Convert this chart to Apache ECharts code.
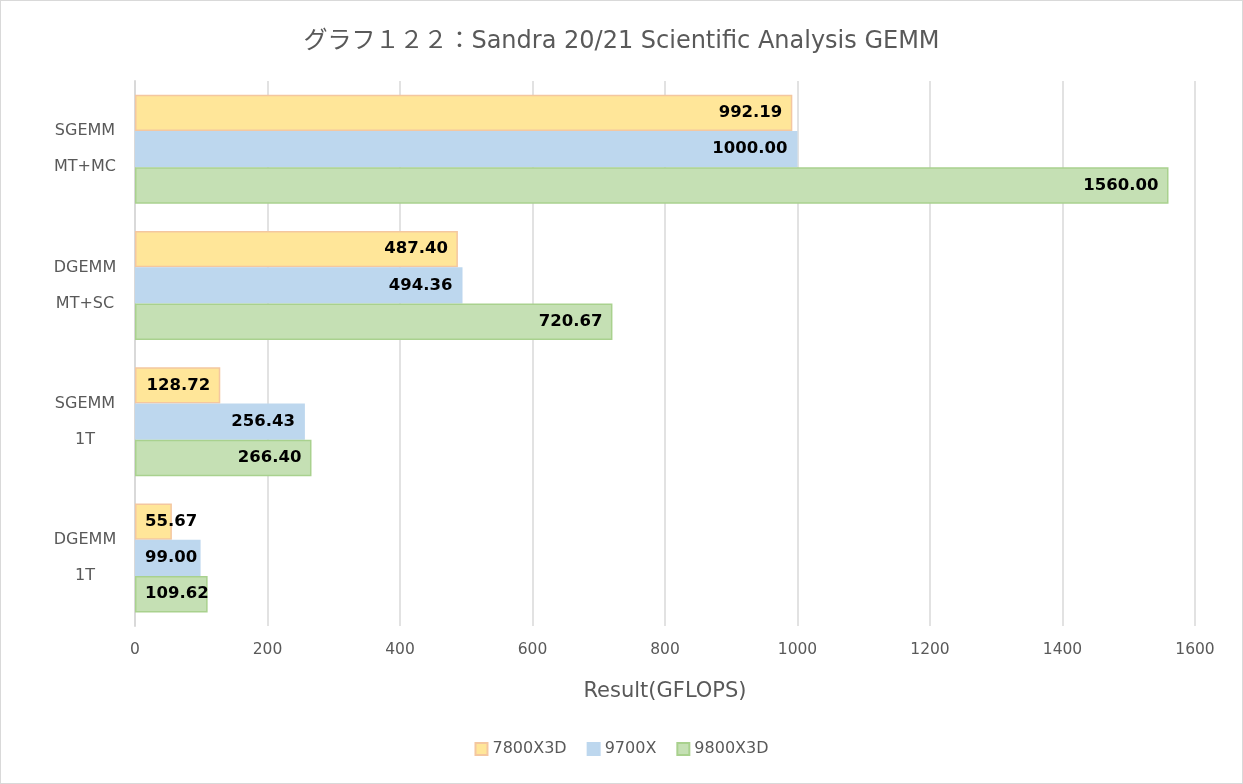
<!DOCTYPE html>
<html><head><meta charset="utf-8">
<script src="https://cdn.jsdelivr.net/npm/echarts@6/dist/echarts.min.js"></script>
<style>html,body{margin:0;padding:0;background:#fff}#c{width:1243px;height:784px;box-sizing:border-box;border:1px solid #d9d9d9}</style>
</head><body><div id="c"></div>
<script>
const categories = ['SGEMM\nMT+MC', 'DGEMM\nMT+SC', 'SGEMM\n1T', 'DGEMM\n1T'];
const seriesNames = ['7800X3D', '9700X', '9800X3D'];
const s7800X3D = [992.19, 487.40, 128.72, 55.67];
const s9700X = [1000.00, 494.36, 256.43, 99.00];
const s9800X3D = [1560.00, 720.67, 266.40, 109.62];
const xTicks = [0, 200, 400, 600, 800, 1000, 1200, 1400, 1600];

const font = "'DejaVu Sans', 'Noto Sans CJK JP', sans-serif";
const fills = ['#FFE699', '#BDD7EE', '#C5E0B4'];
const borders = ['#F4C7A0', '#BDD7EE', '#A9D18E'];
const values = [s7800X3D, s9700X, s9800X3D];

function mk(i) {
  return {
    name: seriesNames[i], type: 'bar',
    barCategoryGap: '20%', barGap: '0%',
    itemStyle: { color: fills[i], borderColor: borders[i], borderWidth: 1.5 },
    data: values[i].map(v => ({
      value: v,
      label: v < 120 ? { position: 'insideLeft', distance: 10 } : { position: 'insideRight', distance: 10 }
    })),
    label: {
      show: true, color: '#000', fontWeight: 'bold', fontSize: 16.5, fontFamily: font,
      formatter: p => p.value.toFixed(2)
    }
  };
}

const chart = echarts.init(document.getElementById('c'), null, { renderer: 'canvas' });
chart.setOption({
  animation: false,
  title: {
    text: 'グラフ１２２：Sandra 20/21 Scientific Analysis GEMM',
    left: 'center', top: 24,
    textStyle: { color: '#595959', fontSize: 24, fontWeight: 'normal', fontFamily: font }
  },
  legend: {
    bottom: 21, left: 'center', itemWidth: 12, itemHeight: 12, itemGap: 20,
    icon: 'rect',
    textStyle: { color: '#595959', fontSize: 16, fontFamily: font },
    data: seriesNames
  },
  grid: { left: 134, right: 47, top: 80, bottom: 157, containLabel: false },
  xAxis: {
    type: 'value', min: 0, max: 1600, interval: 200,
    name: 'Result(GFLOPS)', nameLocation: 'middle', nameGap: 55,
    nameTextStyle: { color: '#595959', fontSize: 21, fontFamily: font },
    axisLabel: { color: '#595959', fontSize: 15.5, fontFamily: font, margin: 16,
      formatter: v => xTicks.includes(v) ? String(v) : '' },
    splitLine: { lineStyle: { color: '#d9d9d9', width: 1.5 } },
    axisLine: { show: false }, axisTick: { show: false }
  },
  yAxis: {
    type: 'category', inverse: true, data: categories,
    axisLabel: { color: '#595959', fontSize: 16, fontFamily: font, lineHeight: 36, align: 'center', margin: 50 },
    axisLine: { show: true, lineStyle: { color: '#d9d9d9', width: 2 } },
    axisTick: { show: false }
  },
  series: [mk(0), mk(1), mk(2)]
});
</script></body></html>
